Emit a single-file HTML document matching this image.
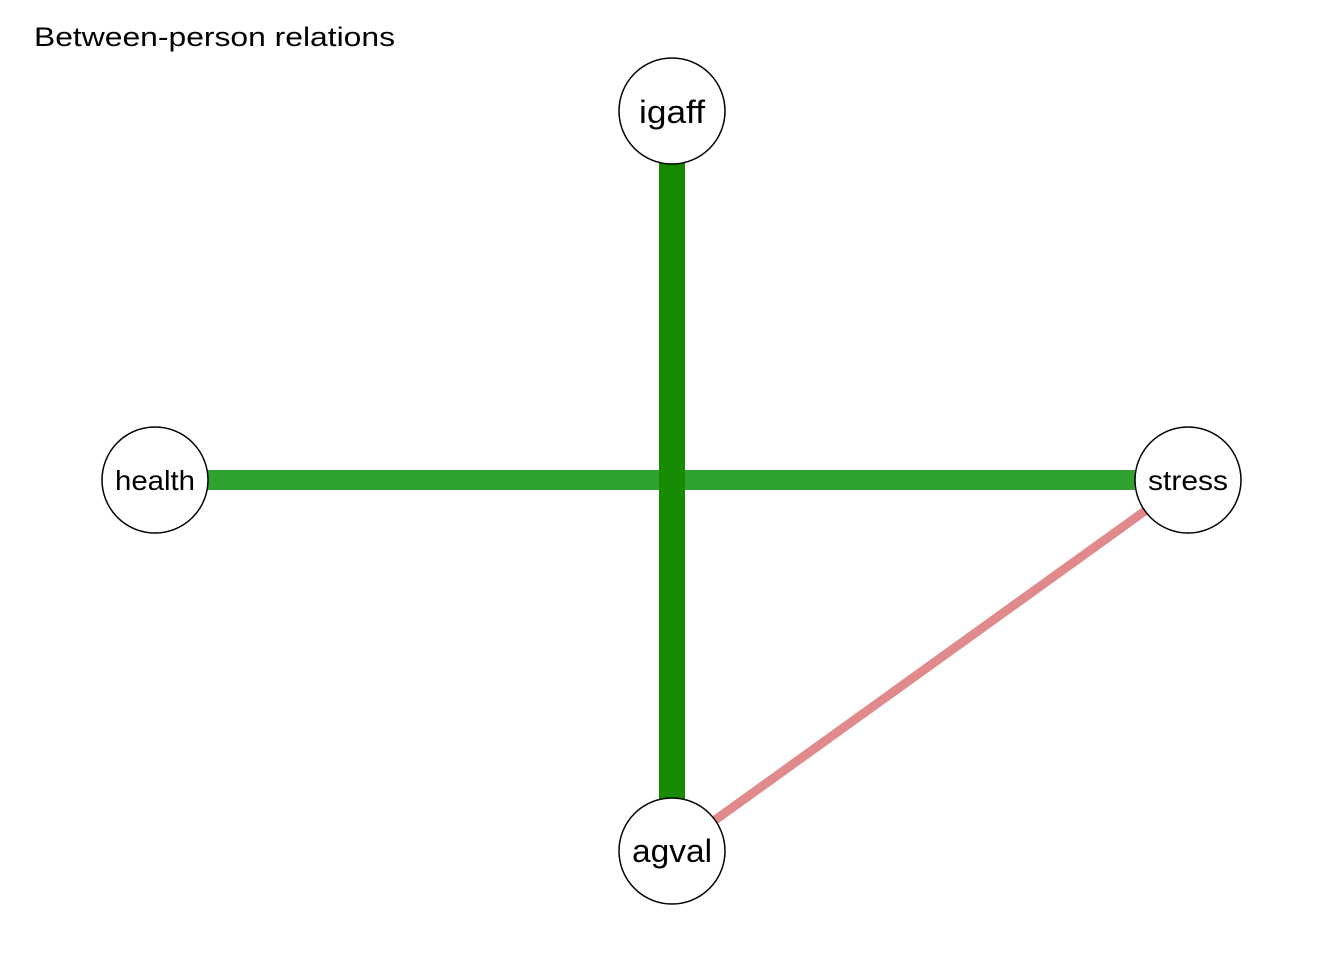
<!DOCTYPE html>
<html><head><meta charset="utf-8"><style>body{margin:0;background:#fff}svg{display:block}</style></head>
<body>
<svg width="1344" height="960" xmlns="http://www.w3.org/2000/svg" font-family="Liberation Sans, sans-serif">
<text x="34" y="46" font-size="27" fill="#000" textLength="361" lengthAdjust="spacingAndGlyphs">Between-person relations</text>
<line x1="155" y1="480" x2="1188" y2="480" stroke="#30A230" stroke-width="20"/>
<line x1="672" y1="111" x2="672" y2="851" stroke="#178A00" stroke-width="26"/>
<line x1="1188" y1="480" x2="672" y2="851" stroke="#E08A8C" stroke-width="9"/>
<g fill="#fff" stroke="#000" stroke-width="1.5">
<circle cx="672" cy="111" r="53"/>
<circle cx="155" cy="480" r="53"/>
<circle cx="1188" cy="480" r="53"/>
<circle cx="672" cy="851" r="53"/>
</g>
<g fill="#000" lengthAdjust="spacingAndGlyphs">
<text x="639" y="123" font-size="32" textLength="66" lengthAdjust="spacingAndGlyphs">igaff</text>
<text x="115" y="490" font-size="28" textLength="80" lengthAdjust="spacingAndGlyphs">health</text>
<text x="1148" y="490" font-size="28" textLength="80" lengthAdjust="spacingAndGlyphs">stress</text>
<text x="632" y="862" font-size="32" textLength="80" lengthAdjust="spacingAndGlyphs">agval</text>
</g>
</svg>
</body></html>
